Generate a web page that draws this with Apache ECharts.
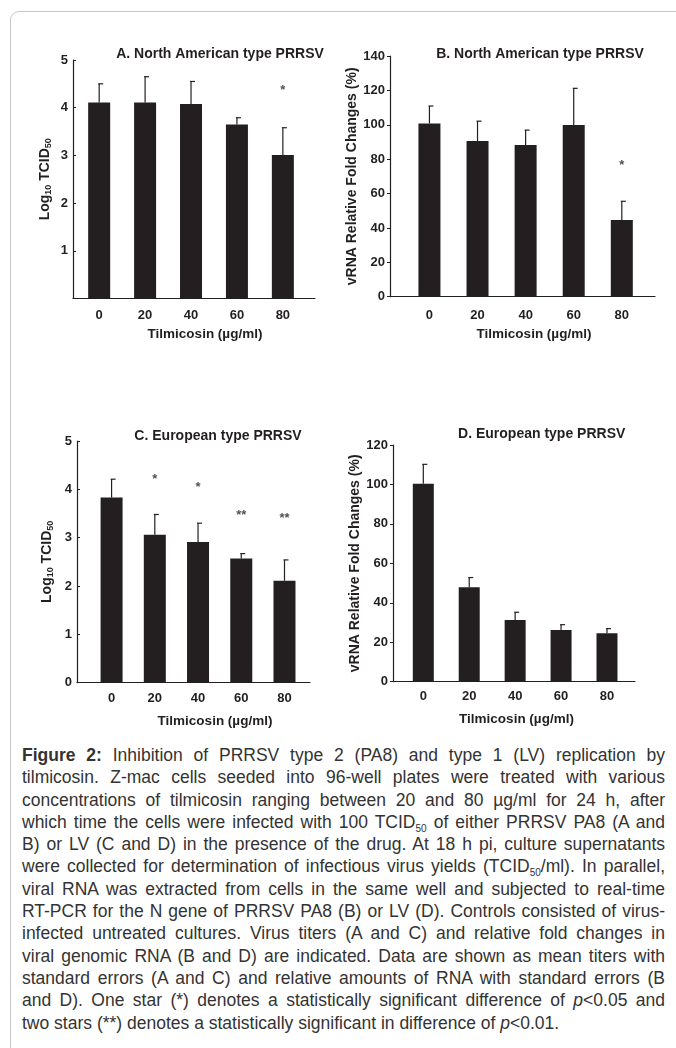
<!DOCTYPE html>
<html>
<head>
<meta charset="utf-8">
<script src="https://cdn.jsdelivr.net/npm/echarts@6/dist/echarts.min.js"></script>
<style>
  body { margin: 0; background: #fff; width: 676px; height: 1048px; overflow: hidden; position: relative;
         font-family: "Liberation Sans", Arial, sans-serif; }
  #frame { position: absolute; left: 10px; top: 11px; width: 720px; height: 1100px;
           border: 1px solid #c8c8c8; border-radius: 9px; }
  #main { position: absolute; left: 0; top: 0; width: 676px; height: 740px; }
  #caption { position: absolute; left: 22px; top: 744px; width: 643px; font-size: 17.5px;
             line-height: 22.3px; color: #333; }
  #caption div { text-align: justify; text-align-last: justify; white-space: nowrap; }
  #caption div.last { text-align-last: left; }
  #caption sub { font-size: 10px; vertical-align: -4px; line-height: 0; }
</style>
</head>
<body>
<div id="frame"></div>
<div id="main"></div>
<div id="caption">
  <div><b>Figure 2:</b> Inhibition of PRRSV type 2 (PA8) and type 1 (LV) replication by</div>
  <div>tilmicosin. Z-mac cells seeded into 96-well plates were treated with various</div>
  <div>concentrations of tilmicosin ranging between 20 and 80 µg/ml for 24 h, after</div>
  <div>which time the cells were infected with 100 TCID<sub>50</sub> of either PRRSV PA8 (A and</div>
  <div>B) or LV (C and D) in the presence of the drug. At 18 h pi, culture supernatants</div>
  <div>were collected for determination of infectious virus yields (TCID<sub>50</sub>/ml). In parallel,</div>
  <div>viral RNA was extracted from cells in the same well and subjected to real-time</div>
  <div>RT-PCR for the N gene of PRRSV PA8 (B) or LV (D). Controls consisted of virus-</div>
  <div>infected untreated cultures. Virus titers (A and C) and relative fold changes in</div>
  <div>viral genomic RNA (B and D) are indicated. Data are shown as mean titers with</div>
  <div>standard errors (A and C) and relative amounts of RNA with standard errors (B</div>
  <div>and D). One star (*) denotes a statistically significant difference of <i>p</i>&lt;0.05 and</div>
  <div class="last">two stars (**) denotes a statistically significant in difference of <i>p</i>&lt;0.01.</div>
</div>
<script>
// doses on the x axis (µg/ml)
var doses = ['0', '20', '40', '60', '80'];

// A. North American type, log10 TCID50
var aMean = [4.11, 4.11, 4.08, 3.65, 3.01];
var aSE = [0.39, 0.54, 0.47, 0.14, 0.57];
var aStars = ['', '', '', '', '*'];
var aStarY = [0, 0, 0, 0, 4.37];

// B. North American type, vRNA fold change (%)
var bMean = [100.8, 90.5, 88.2, 99.8, 44.6];
var bSE = [10.1, 11.6, 8.7, 21.4, 10.9];
var bStars = ['', '', '', '', '*'];
var bStarY = [0, 0, 0, 0, 76.6];

// C. European type, log10 TCID50
var cMean = [3.83, 3.06, 2.91, 2.57, 2.11];
var cSE = [0.38, 0.42, 0.39, 0.10, 0.43];
var cStars = ['', '*', '*', '**', '**'];
var cStarY = [0, 4.21, 4.05, 3.47, 3.40];

// D. European type, vRNA fold change (%)
var dMean = [100.4, 47.9, 31.3, 26.2, 24.6];
var dSE = [9.8, 4.9, 3.9, 2.7, 2.3];
var dStars = ['', '', '', '', ''];
var dStarY = [0, 0, 0, 0, 0];

var ink = '#231f20';
var logName = '{a|Log}{s|10}{a| TCID}{s|50}';
var rnaName = 'vRNA Relative Fold Changes (%)';

var panels = [
  { title: 'A. North American type PRRSV', tx: 220, ty: 47,
    grid: { left: 73, top: 60, width: 242, height: 238.5 },
    xMin: -0.57, xMax: 4.70, yMax: 5, yInt: 1, showZero: false, tickIn: true,
    yName: logName, yGap: 20, xGap: 29, xPad: 22, labMargin: 10,
    mean: aMean, se: aSE, stars: aStars, starY: aStarY, barW: 22 },
  { title: 'B. North American type PRRSV', tx: 540, ty: 47,
    grid: { left: 390, top: 56, width: 265, height: 240.7 },
    xMin: -0.82, xMax: 4.69, yMax: 140, yInt: 20, showZero: true, tickIn: false,
    yName: rnaName, yGap: 25, xGap: 31, xPad: 23, labMargin: 12,
    mean: bMean, se: bSE, stars: bStars, starY: bStarY, barW: 22 },
  { title: 'C. European type PRRSV', tx: 218, ty: 429,
    grid: { left: 77, top: 441, width: 233, height: 241.7 },
    xMin: -0.80, xMax: 4.59, yMax: 5, yInt: 1, showZero: true, tickIn: true,
    yName: logName, yGap: 22, xGap: 32, xPad: 43, labMargin: 9,
    mean: cMean, se: cSE, stars: cStars, starY: cStarY, barW: 22 },
  { title: 'D. European type PRRSV', tx: 541.7, ty: 427,
    grid: { left: 393, top: 445, width: 242, height: 236.7 },
    xMin: -0.66, xMax: 4.61, yMax: 120, yInt: 20, showZero: true, tickIn: false,
    yName: rnaName, yGap: 28, xGap: 31, xPad: 5, labMargin: 8,
    mean: dMean, se: dSE, stars: dStars, starY: dStarY, barW: 21 }
];

function errItem(params, api) {
  var x = api.value(0), m = api.value(1), e = api.value(2);
  var p0 = api.coord([x, m]);
  var p1 = api.coord([x, m + e]);
  var st = { stroke: ink, lineWidth: 1.2 };
  return {
    type: 'group',
    children: [
      { type: 'line', shape: { x1: p0[0], y1: p0[1], x2: p1[0], y2: p1[1] }, style: st },
      { type: 'line', shape: { x1: p1[0] - 1, y1: p1[1], x2: p1[0] + 4, y2: p1[1] }, style: st }
    ]
  };
}

var option = {
  animation: false,
  textStyle: { fontFamily: 'Liberation Sans, Arial, sans-serif' },
  title: [], grid: [], xAxis: [], yAxis: [], series: []
};

panels.forEach(function (p, k) {
  option.title.push({
    text: p.title, left: p.tx, top: p.ty, textAlign: 'center', padding: 0,
    textStyle: { fontSize: 14, fontWeight: 'bold', color: ink }
  });
  option.grid.push(p.grid);
  option.xAxis.push({
    type: 'value', gridIndex: k, min: p.xMin, max: p.xMax,
    splitLine: { show: false },
    axisLine: { onZero: false, lineStyle: { color: ink, width: 1.2 } },
    axisTick: { show: false },
    axisLabel: {
      customValues: [0, 1, 2, 3, 4], margin: p.labMargin,
      fontSize: 13, fontWeight: 'bold', color: ink,
      formatter: function (v) { return doses[Math.round(v)]; }
    },
    name: 'Tilmicosin (µg/ml)', nameLocation: 'middle', nameGap: p.xGap,
    nameTextStyle: { fontSize: 13.5, fontWeight: 'bold', color: ink, padding: [0, 0, 0, p.xPad] }
  });
  option.yAxis.push({
    type: 'value', gridIndex: k, min: 0, max: p.yMax, interval: p.yInt,
    splitLine: { show: false },
    axisLine: { show: true, onZero: false, lineStyle: { color: ink, width: 1.2 } },
    axisTick: { show: true, inside: p.tickIn, length: 3, lineStyle: { color: ink } },
    axisLabel: { showMinLabel: p.showZero, margin: 5, fontSize: 13, fontWeight: 'bold', color: ink },
    name: p.yName, nameLocation: 'middle', nameGap: p.yGap, nameRotate: 90,
    nameTextStyle: {
      fontSize: 14, fontWeight: 'bold', color: ink,
      rich: {
        a: { fontSize: 14, fontWeight: 'bold', color: ink, lineHeight: 16 },
        s: { fontSize: 9, fontWeight: 'bold', color: ink, verticalAlign: 'bottom', lineHeight: 12 }
      }
    }
  });
  option.series.push({
    type: 'bar', xAxisIndex: k, yAxisIndex: k, barWidth: p.barW,
    itemStyle: { color: ink },
    data: p.mean.map(function (v, i) { return [i, v]; })
  });
  option.series.push({
    type: 'custom', xAxisIndex: k, yAxisIndex: k, renderItem: errItem,
    data: p.mean.map(function (v, i) { return [i, v, p.se[i]]; }), z: 3
  });
  var starData = [];
  p.stars.forEach(function (s, i) {
    if (s) starData.push({ value: [i, p.starY[i]], name: s });
  });
  option.series.push({
    type: 'scatter', xAxisIndex: k, yAxisIndex: k, symbolSize: 1,
    itemStyle: { color: 'rgba(0,0,0,0)' },
    label: { show: true, position: 'inside', formatter: '{b}', fontSize: 13, fontWeight: 'bold', color: ink },
    data: starData
  });
});

var chart = echarts.init(document.getElementById('main'));
chart.setOption(option);
</script>
</body>
</html>
